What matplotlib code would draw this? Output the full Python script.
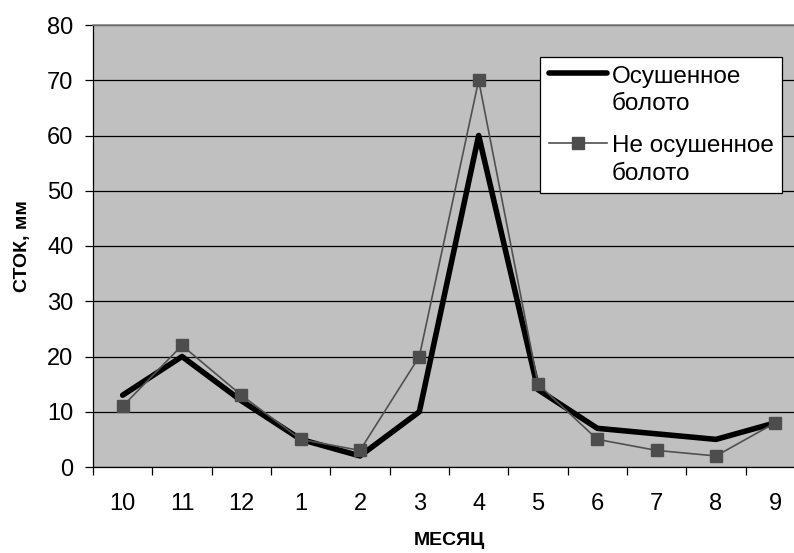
import numpy as np
import matplotlib.pyplot as plt
from matplotlib.legend_handler import HandlerLine2D

plt.rcParams['font.family'] = ['Liberation Sans', 'DejaVu Sans']

# месяцы гидрологического года
months = ['10', '11', '12', '1', '2', '3', '4', '5', '6', '7', '8', '9']
drained = [13, 20, 12, 5, 2, 10, 60, 14, 7, 6, 5, 8]
undrained = [11, 22, 13, 5, 3, 20, 70, 15, 5, 3, 2, 8]

LEG_FS = 17.5
LEG_LS = 1.35


class TopLineHandler(HandlerLine2D):
    # значок легенды на уровне первой строки подписи
    def create_artists(self, legend, orig_handle, xdescent, ydescent,
                       width, height, fontsize, trans):
        arts = super().create_artists(legend, orig_handle, xdescent, ydescent,
                                      width, height, fontsize, trans)
        for a in arts:
            a.set_ydata(np.asarray(a.get_ydata()) + 0.5 * LEG_LS * fontsize * 1.05)
        return arts


fig = plt.figure(figsize=(7.94, 5.53), dpi=100)
W, H = 794, 553
ax = fig.add_axes([93 / W, 1 - 467 / H, (805 - 93) / W, (467 - 25) / H])
ax.set_facecolor('#c0c0c0')

x = np.arange(len(months))
ax.plot(x, drained, color='black', lw=4, solid_capstyle='round',
        solid_joinstyle='round', label='Осушенное\nболото', zorder=3)
ax.plot(x, undrained, color='#505050', lw=1.2, marker='s', ms=8,
        markerfacecolor='#4d4d4d', markeredgecolor='#4d4d4d',
        label='Не осушенное\nболото', zorder=4)

ax.set_xlim(-0.5, len(months) - 0.5)
ax.set_ylim(0, 80)
ax.set_yticks(range(0, 81, 10))
ax.yaxis.grid(True, color='black', lw=0.9)
ax.set_axisbelow(True)

ax.set_xticks(x)
ax.set_xticklabels(months)
ax.set_xticks(np.arange(-0.5, len(months)), minor=True)
ax.tick_params(axis='x', which='major', length=0, pad=19, labelsize=17)
ax.tick_params(axis='x', which='minor', length=6, width=0.9, direction='out')
ax.tick_params(axis='y', length=6, width=0.9, direction='out', labelsize=17, pad=8)

ax.spines['right'].set_visible(False)
ax.spines['top'].set_color('#808080')
ax.spines['top'].set_linewidth(1.2)
for s in ['left', 'bottom']:
    ax.spines[s].set_color('black')
    ax.spines[s].set_linewidth(0.9)

ax.set_xlabel('МЕСЯЦ', fontsize=14, fontweight='bold', labelpad=12)
ax.set_ylabel('СТОК, мм', fontsize=14, fontweight='bold', labelpad=12)

leg = ax.legend(loc='upper left', bbox_to_anchor=((540 - 93) / (805 - 93), 1 - (57 - 25) / 442),
                fontsize=LEG_FS, frameon=True, fancybox=False, edgecolor='black',
                framealpha=1, borderpad=0.35, handlelength=2.4, handletextpad=0.2,
                labelspacing=0.8, borderaxespad=0,
                handler_map={plt.Line2D: TopLineHandler()})
leg.get_frame().set_linewidth(0.9)
for t in leg.get_texts():
    t.set_linespacing(LEG_LS)

fig.savefig('out.png', dpi=100)
